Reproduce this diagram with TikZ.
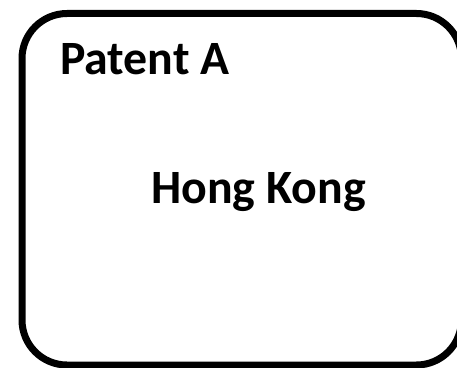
\documentclass[tikz,border=0pt]{standalone}
\usepackage{fontspec}
\setmainfont{Carlito}
\usetikzlibrary{positioning}

\begin{document}
\begin{tikzpicture}[
  x=1bp, y=1bp,
  frame/.style={
    draw,
    line width=7bp,
    rounded corners=45bp
  },
  lbl/.style={
    font=\bfseries\fontsize{48}{56}\selectfont,
    inner sep=0pt,
    outer sep=0pt
  }
]
\useasboundingbox (0,0) rectangle (457,367);

% Box
\draw [frame] (22,2) rectangle (461.4,353.5);

% Labels
\node [lbl, anchor=base west] (patent) at (60,293) {Patent A};
\node [lbl, anchor=base] (place) at (258.5,164) {Hong Kong};

\end{tikzpicture}
\end{document}
